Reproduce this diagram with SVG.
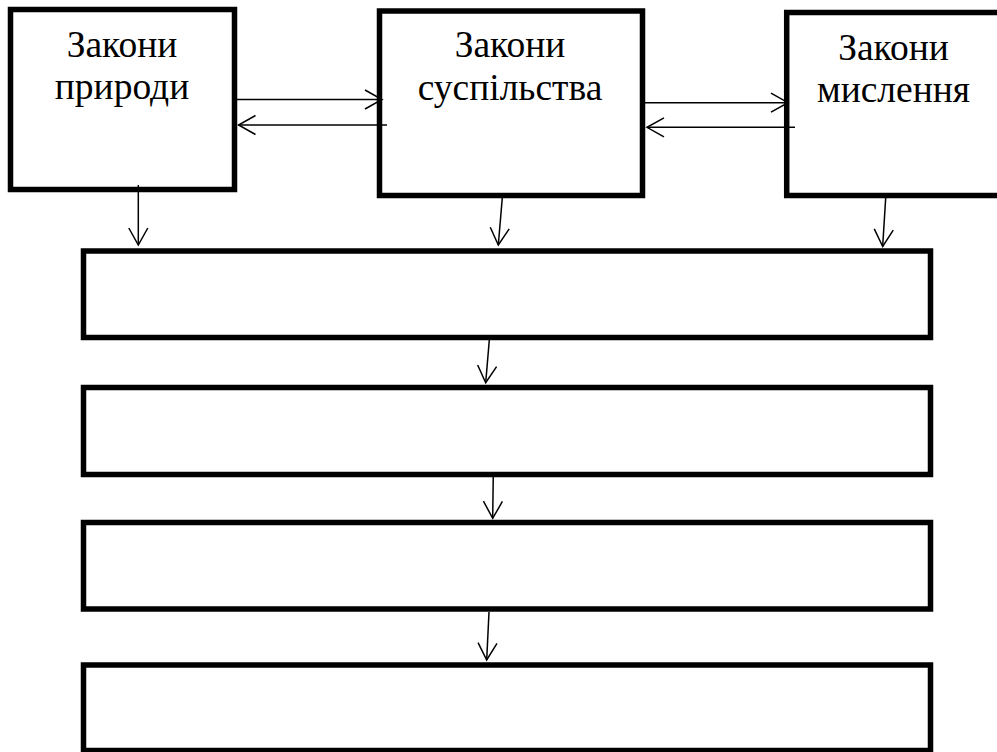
<svg xmlns="http://www.w3.org/2000/svg" width="997" height="752" viewBox="0 0 997 752">
<style>
.box{fill:#fff;stroke:#000;stroke-width:5.5}
.lbl{font-family:"Liberation Serif","Times New Roman",serif;font-size:37.5px;fill:#000;text-anchor:middle}
.con{stroke:#000;stroke-width:1.5;fill:none;marker-end:url(#arr)}
</style>
<defs>
<marker id="arr" markerUnits="userSpaceOnUse" viewBox="-19 -11 21 22" markerWidth="21" markerHeight="22" refX="0" refY="0" orient="auto">
<path d="M-17,-9.5 L0,0 L-17,9.5" fill="none" stroke="#000" stroke-width="1.5"/>
</marker>
</defs>
<rect width="997" height="752" fill="#fff"/>
<g id="n1">
<rect class="box" x="10.5" y="9.5" width="224" height="180"/>
<text class="lbl" x="122" y="57">Закони</text>
<text class="lbl" x="122" y="99">природи</text>
</g>
<g id="n2">
<rect class="box" x="379.5" y="11" width="263" height="184.5"/>
<text class="lbl" x="510" y="57">Закони</text>
<text class="lbl" x="510" y="99.5">суспільства</text>
</g>
<g id="n3">
<rect class="box" x="786.7" y="12.5" width="300" height="183"/>
<text class="lbl" x="893.5" y="60">Закони</text>
<text class="lbl" x="893.5" y="101.5">мислення</text>
</g>
<g id="a">
<rect class="box" x="83.5" y="251" width="847" height="86.5"/>
</g>
<g id="b">
<rect class="box" x="83.5" y="387.5" width="847" height="87"/>
</g>
<g id="c">
<rect class="box" x="83.5" y="522.5" width="847" height="86.5"/>
</g>
<g id="d">
<rect class="box" x="83.5" y="665" width="847" height="85.5"/>
</g>
<g id="connectors">
<line class="con" x1="237" y1="99.5" x2="382" y2="99.5"/>
<line class="con" x1="387" y1="125" x2="238.5" y2="125"/>
<line class="con" x1="645" y1="102.7" x2="788" y2="102.7"/>
<line class="con" x1="795" y1="127.3" x2="647" y2="127.3"/>
<line class="con" x1="138.3" y1="185" x2="138.3" y2="245"/>
<line class="con" x1="502.7" y1="193" x2="498.3" y2="245"/>
<line class="con" x1="886" y1="193" x2="882.7" y2="246.5"/>
<line class="con" x1="489.3" y1="340" x2="485.7" y2="382.7"/>
<line class="con" x1="493.3" y1="473" x2="492.7" y2="518.3"/>
<line class="con" x1="489" y1="612" x2="486.7" y2="660"/>
</g>
</svg>
